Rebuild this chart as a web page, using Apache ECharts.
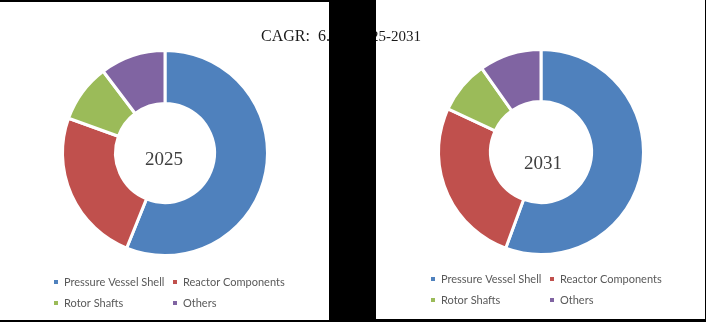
<!DOCTYPE html>
<html>
<head>
<meta charset="utf-8">
<script src="https://cdn.jsdelivr.net/npm/echarts@6/dist/echarts.min.js"></script>
<style>html,body{margin:0;padding:0;background:#000;}#c{width:706px;height:322px;}</style>
</head>
<body>
<div id="c"></div>
<script>
var categories = ['Pressure Vessel Shell', 'Reactor Components', 'Rotor Shafts', 'Others'];
var colors = ['#4F81BD', '#C0504D', '#9BBB59', '#8064A2'];
var years = ['2025', '2031'];
var share2025 = [56.1, 24.4, 9.2, 10.3];
var share2031 = [55.6, 26.3, 8.3, 9.8];
var titleLeft = 'CAGR:  6.';
var titleRight = '25-2031';

function toData(vals) {
  return categories.map(function (c, i) { return { name: c, value: vals[i], itemStyle: { color: colors[i] } }; });
}

var chart = echarts.init(document.getElementById('c'), null, { renderer: 'canvas' });
var legendText = { color: '#595959', fontFamily: 'Lato', fontSize: 11, width: 101, lineHeight: 15 };
function legend(left, top) {
  return {
    left: left, top: top, width: 250, orient: 'horizontal',
    itemWidth: 6, itemHeight: 6, itemGap: 6, icon: 'rect', padding: 0,
    selectedMode: false, textStyle: legendText, data: categories
  };
}
function pie(center, radius, vals) {
  return {
    type: 'pie', center: center, radius: radius, startAngle: 90, clockwise: true,
    avoidLabelOverlap: false, label: { show: false }, labelLine: { show: false },
    emphasis: { disabled: true }, silent: true, z: 5,
    itemStyle: { borderColor: '#fff', borderWidth: 3 },
    data: toData(vals)
  };
}
chart.setOption({
  backgroundColor: '#000',
  animation: false,
  legend: [legend(52, 274.5), legend(429, 271.5)],
  graphic: [
    { type: 'rect', z: 0, shape: { x: 0, y: 2, width: 329, height: 318 }, style: { fill: '#fff' } },
    { type: 'rect', z: 0, shape: { x: 376, y: 0, width: 329, height: 319 }, style: { fill: '#fff' } },
    { type: 'text', z: 1, left: 261, top: 29, style: { text: titleLeft, fill: '#1a1a1a', font: '16px "Liberation Serif"' } },
    { type: 'text', z: 1, right: 706 - 421, top: 30, style: { text: titleRight, fill: '#1a1a1a', font: '15px "Liberation Serif"' } },
    { type: 'rect', z: 2, shape: { x: 329, y: 0, width: 47, height: 322 }, style: { fill: '#000' } },
    { type: 'text', z: 10, x: 164, y: 160, style: { text: years[0], fill: '#404040', font: '19px "Liberation Serif"', align: 'center', verticalAlign: 'middle' } },
    { type: 'text', z: 10, x: 543, y: 164, style: { text: years[1], fill: '#404040', font: '19px "Liberation Serif"', align: 'center', verticalAlign: 'middle' } }
  ],
  series: [
    pie([165, 153], [49.5, 102.5], share2025),
    pie([541, 152], [50.5, 102.5], share2031)
  ]
});
</script>
</body>
</html>
